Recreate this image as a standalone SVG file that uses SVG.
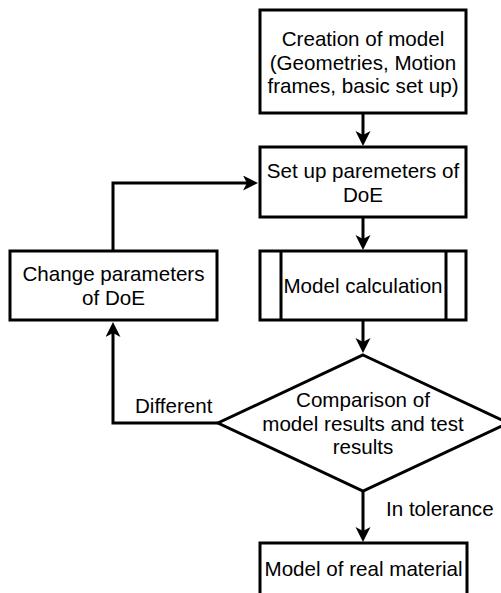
<svg xmlns="http://www.w3.org/2000/svg" width="501" height="593" viewBox="0 0 501 593">
<style>
.box{fill:#fff;stroke:#000;stroke-width:3}
.t{font-family:"Liberation Sans",Arial,sans-serif;font-size:20.6px;fill:#000;text-anchor:middle}
.lbl{font-family:"Liberation Sans",Arial,sans-serif;font-size:20.6px;fill:#000}
.c{fill:none;stroke:#000;stroke-width:3}
</style>
<defs>
<marker id="ah" markerUnits="userSpaceOnUse" markerWidth="16" markerHeight="16" refX="4" refY="7.5" orient="auto">
<path d="M0,0 L15,7.5 L0,15 L4,7.5 z" fill="#000"/>
</marker>
</defs>
<rect width="501" height="593" fill="#fff"/>
<g id="connectors">
<path class="c" d="M363,113 V135" marker-end="url(#ah)"/>
<path class="c" d="M363,217 V239" marker-end="url(#ah)"/>
<path class="c" d="M363,320 V342" marker-end="url(#ah)"/>
<path class="c" d="M218,423 H113 V333" marker-end="url(#ah)"/>
<path class="c" d="M113,251 V183 H247" marker-end="url(#ah)"/>
<path class="c" d="M363,491 V531" marker-end="url(#ah)"/>
<text class="lbl" x="135" y="413">Different</text>
<text class="lbl" x="386" y="516">In tolerance</text>
</g>
<g id="creation">
<rect class="box" x="260" y="10" width="206" height="103"/>
<text class="t" x="363" y="46">Creation of model</text>
<text class="t" x="363" y="69.5">(Geometries, Motion</text>
<text class="t" x="363" y="93">frames, basic set up)</text>
</g>
<g id="setup">
<rect class="box" x="260" y="147" width="206" height="70"/>
<text class="t" x="363" y="177.5">Set up paremeters of</text>
<text class="t" x="363" y="201.5">DoE</text>
</g>
<g id="change">
<rect class="box" x="10" y="251" width="207" height="69"/>
<text class="t" x="113.5" y="281">Change parameters</text>
<text class="t" x="113.5" y="305">of DoE</text>
</g>
<g id="calc">
<rect class="box" x="260" y="251" width="206" height="69"/>
<line class="c" x1="281" y1="251" x2="281" y2="320"/>
<line class="c" x1="446" y1="251" x2="446" y2="320"/>
<text class="t" x="363" y="293">Model calculation</text>
</g>
<g id="compare">
<polygon class="box" points="363,355 508,423 363,491 218,423"/>
<text class="t" x="363" y="407">Comparison of</text>
<text class="t" x="363" y="430.5">model results and test</text>
<text class="t" x="363" y="454">results</text>
</g>
<g id="real">
<rect class="box" x="260" y="543" width="207" height="60"/>
<text class="t" x="363.5" y="576">Model of real material</text>
</g>
</svg>
